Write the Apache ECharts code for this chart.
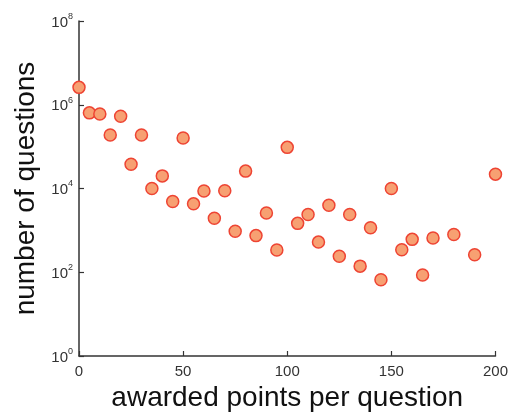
<!DOCTYPE html>
<html>
<head>
<meta charset="utf-8">
<script src="https://cdn.jsdelivr.net/npm/echarts@6/dist/echarts.min.js"></script>
<style>html,body{margin:0;padding:0;background:#fff;}#c{width:511px;height:417px;}</style>
</head>
<body>
<div id="c"></div>
<script>
var points = [0,5,10,15,20,25,30,35,40,45,50,55,60,65,70,75,80,85,90,95,100,105,110,115,120,125,130,135,140,145,150,155,160,165,170,180,190,200];
var questions = [2.6e6,6.4e5,6.0e5,1.9e5,5.3e5,3.8e4,1.9e5,1.0e4,2.0e4,4.9e3,1.6e5,4.3e3,8.7e3,1.94e3,8.8e3,950,2.6e4,750,2.6e3,340,9.6e4,1.47e3,2.4e3,525,4.0e3,240,2.4e3,140,1.15e3,66,1.0e4,345,610,86,655,800,263,2.2e4];
var xTicks = [0,50,100,150,200];
var yExponents = [0,2,4,6,8];

var data = points.map(function(p,i){return [p, questions[i]];});
var chart = echarts.init(document.getElementById('c'), null, {renderer:'canvas'});
var font = 'Liberation Sans, Arial, sans-serif';
chart.setOption({
  animation:false,
  backgroundColor:'#fff',
  grid:{left:79,right:13,top:21,bottom:61,containLabel:false},
  xAxis:{
    type:'value',min:xTicks[0],max:xTicks[xTicks.length-1],interval:50,
    name:'awarded points per question',nameLocation:'middle',nameGap:28,
    nameTextStyle:{fontFamily:font,fontSize:28,color:'#111'},
    axisLine:{lineStyle:{color:'#333',width:1.5}},
    axisTick:{inside:true,length:5,lineStyle:{color:'#333',width:1.2}},
    axisLabel:{fontFamily:font,fontSize:15,color:'#333',margin:8},
    splitLine:{show:false}
  },
  yAxis:{
    type:'log',logBase:10,min:Math.pow(10,yExponents[0]),max:Math.pow(10,yExponents[yExponents.length-1]),interval:2,
    name:'number of questions',nameLocation:'middle',nameGap:38,
    nameTextStyle:{fontFamily:font,fontSize:28,color:'#111'},
    axisLine:{show:true,lineStyle:{color:'#333',width:1.5}},
    axisTick:{show:true,inside:true,length:5,lineStyle:{color:'#333',width:1.2}},
    axisLabel:{
      margin:6,
      formatter:function(v){var e=Math.round(Math.log10(v));return '{b|10}{s|'+e+'}';},
      rich:{
        b:{fontFamily:font,fontSize:15,color:'#333',verticalAlign:'bottom'},
        s:{fontFamily:font,fontSize:9,color:'#333',verticalAlign:'top',padding:[0,0,9,0]}
      }
    },
    minorTick:{show:false},
    splitLine:{show:false}
  },
  series:[{
    type:'scatter',data:data,symbol:'circle',symbolSize:12,
    itemStyle:{color:'#F7A072',borderColor:'#EE4433',borderWidth:1.5,opacity:1}
  }]
});
</script>
</body>
</html>
